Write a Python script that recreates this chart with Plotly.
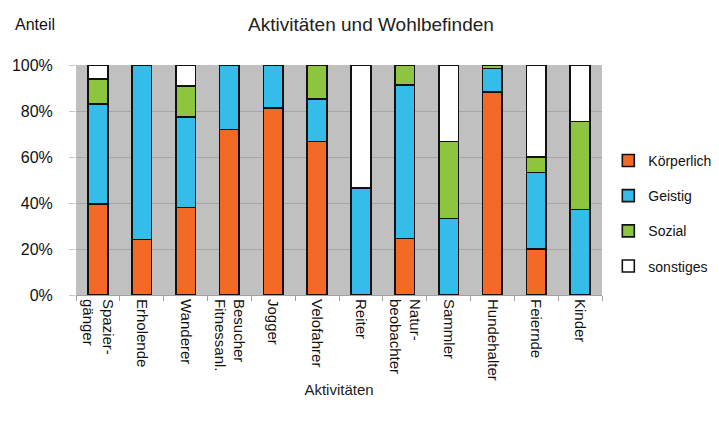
import plotly.graph_objects as go

categories = ["Spazier-<br>gänger", "Erholende", "Wanderer", "Besucher<br>Fitnessanl.", "Jogger",
              "Velofahrer", "Reiter", "Natur-<br>beobachter", "Sammler", "Hundehalter", "Feiernde", "Kinder"]
koerperlich = [39.6, 24.2, 38.1, 72.0, 81.4, 66.7, 0, 24.6, 0, 88.3, 20.0, 0]
geistig = [43.4, 75.8, 39.4, 28.0, 18.6, 18.5, 46.5, 66.8, 33.3, 10.1, 33.2, 37.1]
sozial = [10.8, 0, 13.4, 0, 0, 14.8, 0, 8.6, 33.4, 1.6, 6.7, 38.3]
sonstiges = [6.2, 0, 9.1, 0, 0, 0, 53.5, 0, 33.3, 0, 40.1, 24.6]
y_ticks = [0, 20, 40, 60, 80, 100]
y_tick_labels = ["0%", "20%", "40%", "60%", "80%", "100%"]

FONT = "Liberation Sans Narrow, Arial Narrow, Liberation Sans, Arial, sans-serif"

series = [
    ("Körperlich", koerperlich, "#F26A26"),
    ("Geistig", geistig, "#35BDEA"),
    ("Sozial", sozial, "#8DC53E"),
    ("sonstiges", sonstiges, "#FFFFFF"),
]

fig = go.Figure()
for name, vals, col in series:
    fig.add_trace(go.Bar(
        x=list(range(len(categories))), y=[v if v > 0 else None for v in vals],
        name=name, legendgroup=name,
        marker=dict(color=col, line=dict(color="#111111", width=1.6)),
    ))

# page body has an 8px default margin, so the figure is 8px smaller
fig.update_layout(
    barmode="stack",
    bargap=0.55,
    width=711, height=420,
    margin=dict(l=68, r=117, t=57, b=133, autoexpand=False),
    paper_bgcolor="white",
    plot_bgcolor="#C0C0C0",
    font=dict(family=FONT, size=15, color="#111111"),
    title=dict(text="Aktivitäten und Wohlbefinden", x=0.5105, xanchor="center", y=0.962, yanchor="middle",
               font=dict(family=FONT, size=19, color="#222222")),
    showlegend=True,
    legend=dict(x=1.012, xanchor="left", y=0.355, yanchor="middle", traceorder="grouped",
                tracegroupgap=14, font=dict(family=FONT, size=14, color="#111111"),
                itemwidth=30, bgcolor="rgba(0,0,0,0)"),
    xaxis=dict(
        tickmode="array", tickvals=list(range(len(categories))), ticktext=categories,
        tickangle=90, range=[-0.5, len(categories) - 0.5], automargin=False,
        showgrid=False, showline=True, linecolor="#A0A0A0", linewidth=1,
        ticks="", tickfont=dict(family=FONT, size=15, color="#111111"),
        title=dict(text="Aktivitäten", font=dict(family=FONT, size=15, color="#222222"), standoff=4),
    ),
    yaxis=dict(
        range=[0, 100], tickmode="array", tickvals=y_ticks, ticktext=y_tick_labels,
        showgrid=True, gridcolor="#A6A6A6", gridwidth=1, automargin=False,
        ticks="outside", ticklen=6, tickcolor="#C8C8C8", ticklabelstandoff=13,
        zeroline=False, showline=False,
        tickfont=dict(family=FONT, size=16, color="#111111"),
    ),
    annotations=[dict(text="Anteil", xref="paper", yref="paper", x=-0.12, y=1.174,
                      xanchor="left", yanchor="middle", showarrow=False,
                      font=dict(family=FONT, size=16, color="#111111"))],
)

fig.update_xaxes(minor=dict(tickmode="array", tickvals=[i - 0.5 for i in range(len(categories) + 1)],
                            ticks="outside", ticklen=5, tickcolor="#A0A0A0", showgrid=False))

fig.write_html("out.html")
